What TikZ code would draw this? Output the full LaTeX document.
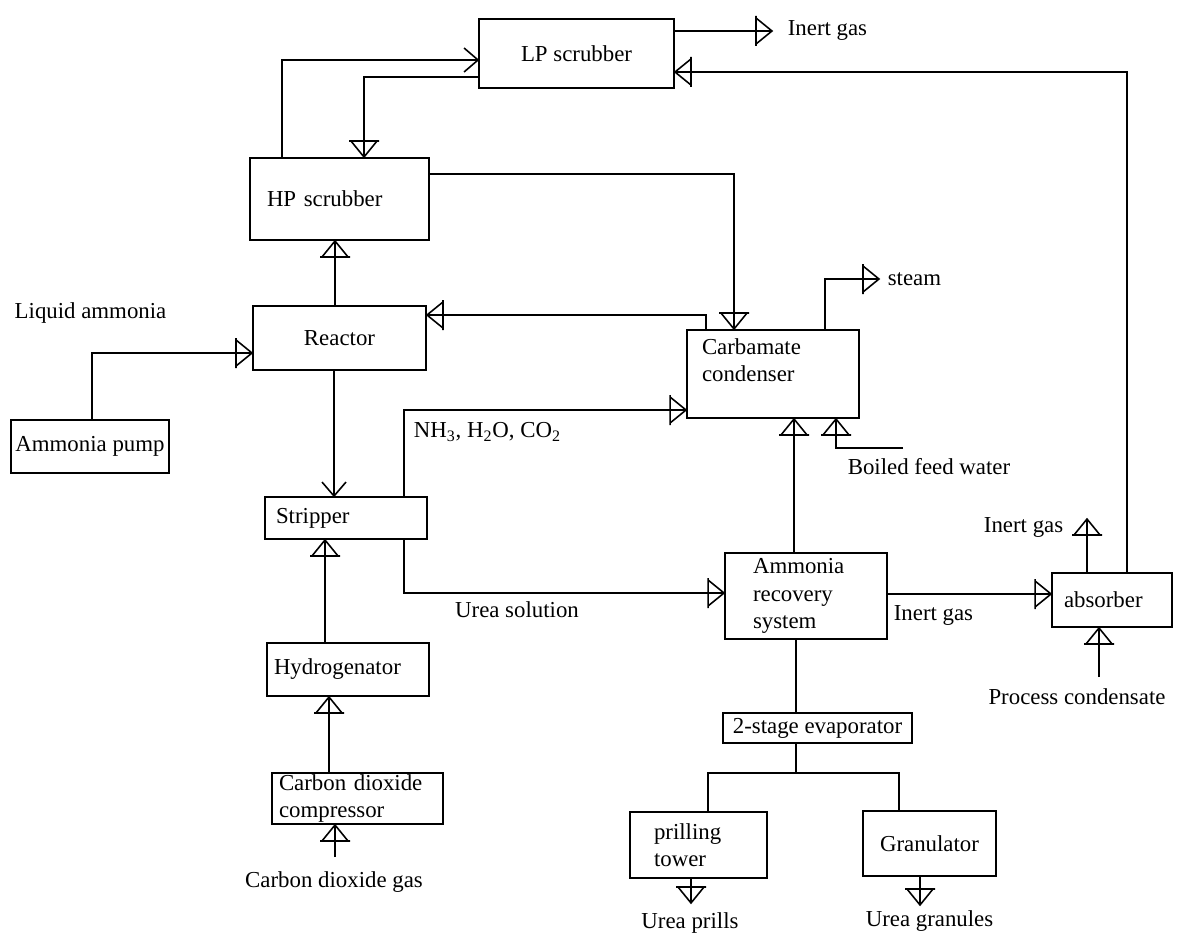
\documentclass[tikz,border=0pt]{standalone}
\usepackage{fontspec}
\setmainfont{Liberation Serif}
\usetikzlibrary{decorations.markings}

\tikzset{
  unit/.style={draw, inner sep=0pt, align=center},
  dims/.style 2 args={minimum width=#1*0.02cm, minimum height=#2*0.02cm},
  indent/.style 2 args={inner xsep=#2*0.02cm, text width=(#1-2*#2)*0.02cm, align=left},
  flow/.style={postaction={decorate}, decoration={markings, mark=at position 1 with {
      \draw[line width=0.9pt] (-16,-13) -- (0,0) -- (-16,13) (-16,-15) -- (-16,15);}}},
  barb/.style={postaction={decorate}, decoration={markings, mark=at position 1 with {
      \draw[line width=0.9pt] (-14,-12) -- (0,0) -- (-14,12);}}}
}

\begin{document}
\begin{tikzpicture}[x=0.02cm, y=-0.02cm, line width=1.1pt,
  every node/.style={font=\fontsize{13}{15.5}\selectfont}]
  \useasboundingbox (0,0) rectangle (1186,936);

  % units
  \node[unit, dims={195}{69}] (lp) at (576.5,53.5) {LP scrubber};
  \node[unit, dims={179}{82}, indent={179}{17}] (hp) at (339.5,199) {HP scrubber};
  \node[unit, dims={173}{64}] (reactor) at (339.5,338) {Reactor};
  \node[unit, dims={158}{53}] (pump) at (90,446.5) {Ammonia pump};
  \node[unit, dims={162}{42}, indent={162}{11}] (stripper) at (346,518) {Stripper};
  \node[unit, dims={162}{53}, indent={162}{7}] (hydro) at (348,669.5) {Hydrogenator};
  \node[unit, dims={171}{51}, indent={171}{7}] (compressor) at (357.5,798.5) {Carbon dioxide\\compressor};
  \node[unit, dims={172}{88}, indent={172}{15}] (carbamate) at (773,374) {Carbamate\\condenser\\~};
  \node[unit, dims={162}{86}, indent={162}{28}] (recovery) at (806,596) {Ammonia\\recovery\\system};
  \node[unit, dims={120}{54}, indent={120}{12}] (absorber) at (1112,600) {absorber};
  \node[unit, dims={189}{30}] (evaporator) at (817.5,728) {2-stage evaporator};
  \node[unit, dims={137}{66}, indent={137}{24}] (prilling) at (698.5,845) {prilling\\tower};
  \node[unit, dims={133}{65}] (granulator) at (929.5,843.5) {Granulator};

  % labels
  \node (liquid) at (90.5,313) {Liquid ammonia};
  \node[anchor=west] (vapour) at (407,432) {NH\textsubscript{3}, H\textsubscript{2}O, CO\textsubscript{2}};
  \node (solution) at (517,610) {Urea solution};
  \node (co2gas) at (334,882) {Carbon dioxide gas};
  \node[anchor=west] (steam) at (881,279) {steam};
  \node[anchor=west] (inerttop) at (781,30) {Inert gas};
  \node[anchor=west] (feedwater) at (841,467) {Boiled feed water};
  \node[anchor=east] (inertvent) at (1070,527) {Inert gas};
  \node[anchor=west] (inertmid) at (887,615) {Inert gas};
  \node (condensate) at (1077,697) {Process condensate};
  \node (prills) at (690,923) {Urea prills};
  \node (granules) at (929.5,921) {Urea granules};

  % free ends
  \coordinate (lpvent) at (772,31);
  \coordinate (steamout) at (879,279);
  \coordinate (feedin) at (903,448);
  \coordinate (ventout) at (1087,519);
  \coordinate (condin) at (1099,677);
  \coordinate (co2in) at (335,857);
  \coordinate (prillout) at (691,903);
  \coordinate (granout) at (920,905);
  \coordinate (split) at (796,773);

  % arrows
  \draw [barb] (hp.north -| 282,0) |- (lp.west |- 0,60);
  \draw [flow] (lp.west |- 0,77) -| (hp.north -| 364,0);
  \draw [flow] (lp.east |- 0,31) -- (lpvent);
  \draw [flow] (absorber.north -| 1127,0) |- (lp.east |- 0,72);
  \draw [flow] (reactor.north -| 335,0) -- (hp.south -| 335,0);
  \draw [flow] (hp.east |- 0,174) -| (carbamate.north -| 734,0);
  \draw [flow] (carbamate.north -| 706,0) |- (reactor.east |- 0,315);
  \draw [flow] (carbamate.north -| 825,0) |- (steamout);
  \draw [flow] (pump.north -| 92,0) |- (reactor.west |- 0,353);
  \draw [barb] (reactor.south -| 334,0) -- (stripper.north -| 334,0);
  \draw [flow] (stripper.north -| 404,0) |- (carbamate.west |- 0,410);
  \draw [flow] (stripper.south -| 404,0) |- (recovery.west |- 0,593);
  \draw [flow] (hydro.north -| 325,0) -- (stripper.south -| 325,0);
  \draw [flow] (compressor.north -| 329,0) -- (hydro.south -| 329,0);
  \draw [flow] (co2in) -- (compressor.south -| 335,0);
  \draw [flow] (recovery.north -| 794,0) -- (carbamate.south -| 794,0);
  \draw [flow] (feedin) -| (carbamate.south -| 836,0);
  \draw [flow] (recovery.east |- 0,594) -- (absorber.west |- 0,594);
  \draw [flow] (absorber.north -| 1087,0) -- (ventout);
  \draw [flow] (condin) -- (absorber.south -| 1099,0);
  \draw (recovery.south -| 796,0) -- (evaporator.north -| 796,0);
  \draw (evaporator.south -| split) -- (split);
  \draw (prilling.north -| 708,0) |- (split) -| (granulator.north -| 899,0);
  \draw [flow] (prilling.south -| 691,0) -- (prillout);
  \draw [flow] (granulator.south -| 920,0) -- (granout);

\end{tikzpicture}
\end{document}
